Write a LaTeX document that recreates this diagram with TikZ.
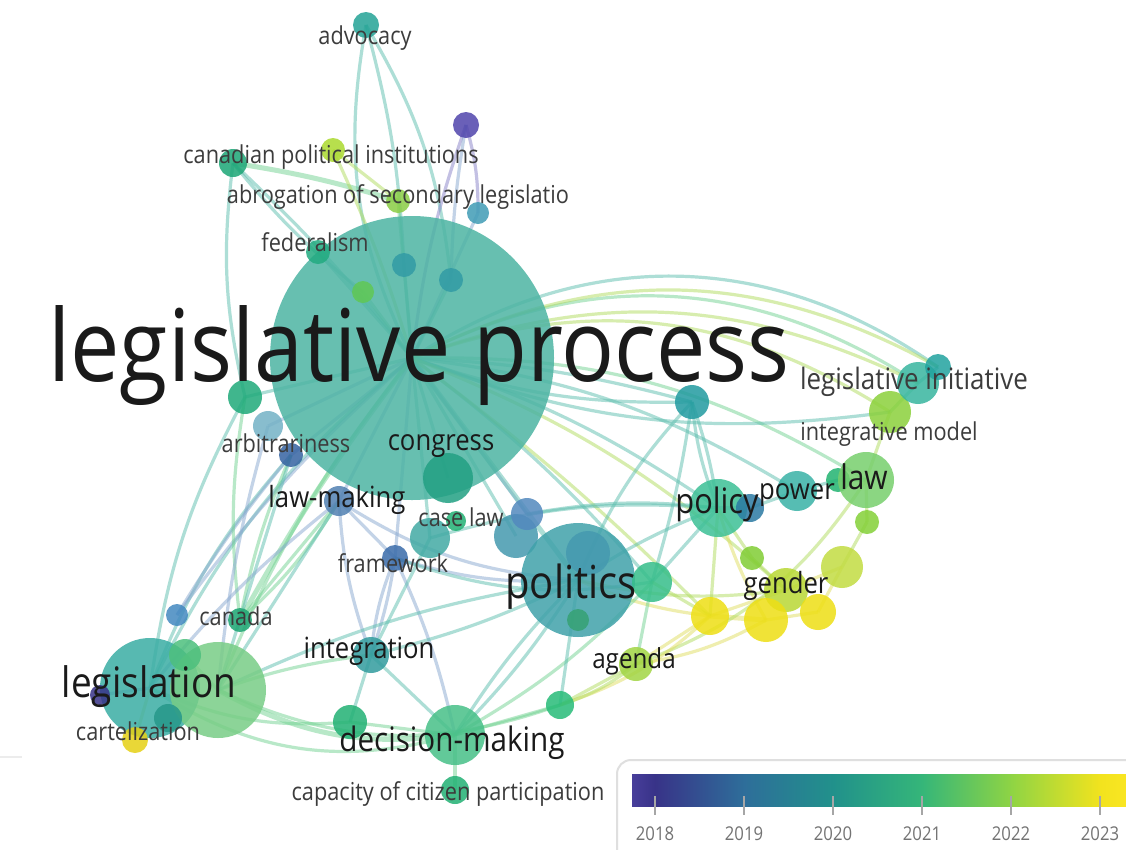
\documentclass[tikz,border=0pt]{standalone}
\usepackage{fontspec}
\setmainfont{Open Sans}
\pgfdeclarelayer{edges}
\pgfdeclarelayer{labels}
\pgfsetlayers{edges,main,labels}
% node colours
\definecolor{cLP}{HTML}{4DB4A3}
\definecolor{cAdv}{HTML}{24A396}
\definecolor{cPur}{HTML}{5045AC}
\definecolor{cCpi}{HTML}{1CA676}
\definecolor{cLim}{HTML}{ABDA2E}
\definecolor{cAbr}{HTML}{8ACD45}
\definecolor{cBt}{HTML}{409CB6}
\definecolor{cFed}{HTML}{22AB80}
\definecolor{cIn}{HTML}{329BA5}
\definecolor{cIg}{HTML}{60C854}
\definecolor{cLg}{HTML}{1FAA7A}
\definecolor{cPal}{HTML}{74B2C6}
\definecolor{cArb}{HTML}{3563A1}
\definecolor{cLm}{HTML}{5281B2}
\definecolor{cCong}{HTML}{22A083}
\definecolor{cCl}{HTML}{42AAA4}
\definecolor{cB1}{HTML}{5389BE}
\definecolor{cB2}{HTML}{4599AF}
\definecolor{cPol}{HTML}{40A2AA}
\definecolor{cPolg}{HTML}{36A274}
\definecolor{cFw}{HTML}{3A6CAA}
\definecolor{cNp}{HTML}{36BE8A}
\definecolor{cTr}{HTML}{229BA0}
\definecolor{cPlc}{HTML}{3DC096}
\definecolor{cDb}{HTML}{2B7AA3}
\definecolor{cPw}{HTML}{39B2A6}
\definecolor{cSg}{HTML}{21B370}
\definecolor{cLaw}{HTML}{77CF6D}
\definecolor{cLb}{HTML}{84D038}
\definecolor{cIm}{HTML}{8BD13B}
\definecolor{cLi}{HTML}{38B69F}
\definecolor{cLi2}{HTML}{22A39F}
\definecolor{cLg2}{HTML}{81CD34}
\definecolor{cGen}{HTML}{B9D834}
\definecolor{cGr}{HTML}{C2DC42}
\definecolor{cY}{HTML}{EEDF14}
\definecolor{cAg}{HTML}{A2D544}
\definecolor{cDg}{HTML}{27BC78}
\definecolor{cIng}{HTML}{329C9E}
\definecolor{cCb}{HTML}{4389C0}
\definecolor{cCg}{HTML}{1CA572}
\definecolor{cLeg}{HTML}{3AADA4}
\definecolor{cLegg}{HTML}{78CD86}
\definecolor{cLg3}{HTML}{4DC07D}
\definecolor{cLdt}{HTML}{26978A}
\definecolor{cLpu}{HTML}{383388}
\definecolor{cCart}{HTML}{E6D014}
\definecolor{cDm}{HTML}{47C088}
\definecolor{cDm2}{HTML}{22B174}
% edge colours
\definecolor{eT}{HTML}{5CBEAE}
\definecolor{eG}{HTML}{72D392}
\definecolor{eL}{HTML}{B0DC5E}
\definecolor{eY}{HTML}{E0DE60}
\definecolor{eB}{HTML}{88A8D0}
\definecolor{eP}{HTML}{8882C8}
\definecolor{txt}{HTML}{1A1A1A}
\definecolor{txs}{HTML}{3C3C3C}
\newcommand\kwn[5]{\node[kw,minimum size=#4pt,fill=#5] (#1) at (#2,#3) {};}
\newcommand\lk[4]{\draw[lnk,draw=#3] (#1.center) to[#4] (#2.center);}
\newcommand\lkw[4]{\draw[lnk,line width=5pt,draw=#3] (#1.center) to[#4] (#2.center);}
\newcommand\fs[1]{\fontsize{#1}{#1}\selectfont}
\begin{document}
\begin{tikzpicture}[x=1pt,y=-1pt,
  kw/.style={circle,inner sep=0pt,draw=none,fill opacity=0.85},
  lnk/.style={line width=3.2pt,draw opacity=0.5},
  lab/.style={inner sep=0pt,anchor=base,text=txs,xscale=0.88},
  big/.style={lab,text=txt}]
\useasboundingbox (0,0) rectangle (1126,849);
% ---------- nodes ----------
\kwn{lp}{412}{358}{284}{cLP}
\kwn{adv}{366}{25}{26}{cAdv}
\kwn{pur}{466}{125}{26}{cPur}
\kwn{cpi}{233}{163}{28}{cCpi}
\kwn{lim}{333}{150}{24}{cLim}
\kwn{abr}{398}{201}{24}{cAbr}
\kwn{bt}{478}{213}{22}{cBt}
\kwn{fed}{318}{252}{24}{cFed}
\kwn{ia}{404}{265}{24}{cIn}
\kwn{ib}{451}{280}{24}{cIn}
\kwn{ic}{363}{292}{22}{cIg}
\kwn{lg}{245}{397}{34}{cLg}
\kwn{pal}{268}{426}{30}{cPal}
\kwn{arb}{291}{455}{24}{cArb}
\kwn{lm}{339}{501}{30}{cLm}
\kwn{cong}{448}{478}{50}{cCong}
\kwn{cl}{430}{538}{40}{cCl}
\kwn{clg}{456}{521}{20}{cDm2}
\kwn{bb}{516}{536}{44}{cB2}
\kwn{ba}{527}{514}{32}{cB1}
\kwn{pol}{578}{580}{114}{cPol}
\kwn{polb}{588}{553}{44}{cB2}
\kwn{polg}{578}{620}{22}{cPolg}
\kwn{fw}{395}{558}{26}{cFw}
\kwn{np}{652}{582}{40}{cNp}
\kwn{tr}{692}{402}{34}{cTr}
\kwn{plc}{718}{508}{58}{cPlc}
\kwn{db}{750}{508}{28}{cDb}
\kwn{pw}{797}{491}{40}{cPw}
\kwn{sg}{838}{480}{24}{cSg}
\kwn{law}{866}{480}{56}{cLaw}
\kwn{lb}{867}{522}{24}{cLb}
\kwn{im}{890}{412}{42}{cIm}
\kwn{li}{918}{383}{42}{cLi}
\kwn{lii}{938}{367}{26}{cLi2}
\kwn{lgg}{752}{558}{24}{cLg2}
\kwn{gen}{786}{590}{44}{cGen}
\kwn{gr}{842}{567}{42}{cGr}
\kwn{ya}{710}{616}{38}{cY}
\kwn{yb}{766}{620}{44}{cY}
\kwn{yc}{818}{612}{36}{cY}
\kwn{ag}{636}{664}{34}{cAg}
\kwn{dg}{560}{705}{28}{cDg}
\kwn{ing}{371}{655}{36}{cIng}
\kwn{cb}{177}{615}{22}{cCb}
\kwn{cg}{240}{620}{24}{cCg}
\kwn{leg}{150}{688}{100}{cLeg}
\kwn{legg}{218}{690}{96}{cLegg}
\kwn{lgt}{185}{655}{32}{cLg3}
\kwn{ldt}{168}{718}{28}{cLdt}
\kwn{lpu}{100}{695}{20}{cLpu}
\kwn{cart}{135}{740}{26}{cCart}
\kwn{dm}{455}{735}{60}{cDm}
\kwn{dmb}{350}{722}{34}{cDm2}
\kwn{cap}{455}{790}{28}{cDm2}
% ---------- edges ----------
\begin{pgfonlayer}{edges}
\fill[white] (0,0) rectangle (1126,849);
\draw[gray!15,line width=2pt] (0,757) -- (22,757);
\lk{lp}{adv}{eT}{bend left=18}
\lk{adv}{ib}{eT}{bend left=12}
\lk{adv}{ia}{eT}{bend left=6}
\lk{pur}{bt}{eP}{bend left=8}
\lk{pur}{lp}{eP}{bend right=6}
\lk{pur}{ib}{eB}{bend right=4}
\lkw{cpi}{abr}{eG}{bend left=4}
\lk{cpi}{lp}{eT}{bend left=4}
\lk{cpi}{ic}{eT}{bend right=6}
\lk{cpi}{lg}{eT}{bend right=10}
\lk{lim}{lp}{eL}{bend left=4}
\lk{lim}{abr}{eL}{}
\lk{abr}{lp}{eG}{}
\lk{bt}{lp}{eB}{}
\lk{ia}{lp}{eT}{}
\lk{ib}{lp}{eT}{}
\lk{ic}{lp}{eG}{}
\lk{fed}{lp}{eT}{}
\lk{lg}{lp}{eT}{}
\lk{pal}{lp}{eB}{}
\lk{arb}{lp}{eB}{}
\lk{lm}{lp}{eB}{}
\lk{cong}{lp}{eT}{}
\lk{cl}{lp}{eT}{}
\lk{ba}{lp}{eB}{}
\lk{bb}{lp}{eT}{}
\lk{fw}{lp}{eB}{}
\lkw{pol}{lp}{eT}{}
\lk{lp}{li}{eG}{bend left=30}
\lk{lp}{lii}{eT}{bend left=34}
\lk{lp}{im}{eL}{bend left=26}
\lk{lp}{li}{eL}{bend left=23}
\lk{lp}{lii}{eL}{bend left=28}
\lk{lp}{tr}{eT}{bend left=6}
\lk{lp}{tr}{eT}{bend right=10}
\lk{lp}{plc}{eT}{bend left=8}
\lk{lp}{pw}{eT}{bend left=12}
\lk{lp}{law}{eG}{bend left=16}
\lk{im}{lp}{eT}{bend left=14}
\lk{lp}{gen}{eL}{bend left=10}
\lk{lp}{np}{eT}{bend left=6}
\lk{lp}{ya}{eL}{bend left=4}
\lk{tr}{plc}{eT}{bend left=5}
\lk{tr}{plc}{eT}{bend right=8}
\lk{tr}{pol}{eT}{bend right=10}
\lk{tr}{np}{eT}{bend left=4}
\lk{plc}{pol}{eT}{bend right=6}
\lk{plc}{np}{eT}{}
\lk{plc}{db}{eB}{}
\lk{db}{pw}{eT}{}
\lk{pw}{sg}{eT}{}
\lk{sg}{law}{eG}{}
\lk{law}{im}{eL}{}
\lk{im}{li}{eG}{}
\lk{li}{lii}{eT}{}
\lk{law}{lb}{eL}{}
\lk{lb}{gr}{eL}{}
\lk{gr}{gen}{eY}{}
\lk{gr}{yc}{eY}{}
\lk{yc}{yb}{eY}{}
\lkw{yb}{ya}{eY}{}
\lk{gen}{ya}{eY}{}
\lk{plc}{lgg}{eL}{}
\lk{lgg}{gen}{eL}{}
\lk{plc}{ya}{eL}{}
\lk{plc}{yb}{eY}{bend right=6}
\lk{np}{ya}{eL}{}
\lk{pol}{ya}{eY}{bend right=8}
\lk{pol}{gen}{eL}{bend right=10}
\lk{ag}{ya}{eY}{}
\lk{ag}{yb}{eY}{bend right=10}
\lk{ag}{law}{eL}{bend right=18}
\lk{dg}{ag}{eL}{}
\lk{dg}{ya}{eY}{bend right=12}
\lk{np}{ag}{eG}{}
\lk{cl}{plc}{eT}{bend left=10}
\lk{ba}{plc}{eT}{bend left=8}
\lk{lm}{fw}{eB}{}
\lk{lm}{ing}{eB}{bend right=8}
\lk{fw}{ing}{eB}{bend left=5}
\lk{fw}{ing}{eB}{bend right=8}
\lk{fw}{dm}{eB}{bend left=6}
\lk{fw}{pol}{eB}{bend right=10}
\lk{fw}{np}{eT}{bend right=14}
\lk{lm}{pol}{eB}{bend right=14}
\lk{ing}{dm}{eT}{}
\lk{ing}{dmb}{eT}{}
\lk{ing}{pol}{eT}{bend right=6}
\lk{cl}{ing}{eT}{}
\lk{leg}{dmb}{eG}{bend right=14}
\lkw{legg}{dm}{eG}{bend right=18}
\lk{leg}{dm}{eG}{bend right=24}
\lk{legg}{dg}{eG}{bend right=22}
\lk{legg}{ing}{eG}{bend left=6}
\lk{legg}{pol}{eT}{bend left=8}
\lk{dm}{dg}{eG}{}
\lk{dm}{pol}{eT}{bend right=6}
\lk{dm}{pol}{eT}{bend left=6}
\lk{dm}{cap}{eG}{}
\lk{dmb}{dm}{eG}{}
\lk{dm}{np}{eG}{bend right=8}
\lk{dg}{pol}{eT}{}
\lk{dg}{ag}{eL}{bend right=10}
\lk{leg}{lp}{eT}{bend left=12}
\lk{legg}{lp}{eG}{bend left=8}
\lk{leg}{arb}{eT}{bend left=10}
\lk{cb}{arb}{eB}{bend left=4}
\lk{cb}{lp}{eB}{bend left=6}
\lkw{cg}{lp}{eG}{bend left=4}
\lk{cg}{arb}{eG}{bend left=6}
\lk{cg}{lm}{eG}{}
\lk{cg}{lm}{eG}{bend right=8}
\lk{lg}{leg}{eT}{bend right=10}
\lk{lg}{cg}{eG}{bend right=8}
\lk{pal}{legg}{eB}{bend right=5}
\lk{arb}{legg}{eT}{}
\lk{lm}{leg}{eB}{bend right=6}
\lk{lm}{legg}{eT}{}
\lk{leg}{cart}{eY}{}
\lk{leg}{lpu}{eP}{}
\lk{legg}{lgt}{eG}{}
\end{pgfonlayer}
% ---------- legend ----------
\begin{scope}
\clip (0,0) rectangle (1126,849);
\draw[gray!25,line width=2pt,fill=white,rounded corners=14pt] (617,760) rectangle (1160,880);
\shade[left color=cPur!90!black,right color=cLpu] (632,774) rectangle (655,806);
\shade[left color=cLpu,right color={rgb,255:red,46;green,110;blue,154}] (655,774) rectangle (744.5,806);
\shade[left color={rgb,255:red,46;green,110;blue,154},right color={rgb,255:red,33;green,145;blue,139}] (744,774) rectangle (833.5,806);
\shade[left color={rgb,255:red,33;green,145;blue,139},right color={rgb,255:red,53;green,182;blue,121}] (833,774) rectangle (922.5,806);
\shade[left color={rgb,255:red,53;green,182;blue,121},right color={rgb,255:red,143;green,212;blue,68}] (922,774) rectangle (1011.5,806);
\shade[left color={rgb,255:red,143;green,212;blue,68},right color={rgb,255:red,242;green,227;blue,30}] (1011,774) rectangle (1100.5,806);
\shade[left color={rgb,255:red,242;green,227;blue,30},right color={rgb,255:red,253;green,231;blue,37}] (1100,774) rectangle (1140,806);
\foreach \x/\yr in {655/2018,744/2019,833/2020,922/2021,1011/2022,1100/2023}{
  \draw[gray!70,line width=1.5pt] (\x,796) -- (\x,815);
  \node[lab,text=gray!90!black,font=\fs{19}] (yr\yr) at (\x,840) {\yr};
}
\end{scope}
% ---------- labels ----------
\begin{pgfonlayer}{labels}
\node[big,font=\fs{100}] (t-lp) at (419,381) {legislative process};
\node[lab,font=\fs{24.7}] (t-adv) at (365,44) {advocacy};
\node[lab,font=\fs{24.7}] (t-cpi) at (331,163) {canadian political institutions};
\node[lab,font=\fs{24.7}] (t-abr) at (398,203) {abrogation of secondary legislatio};
\node[lab,font=\fs{24.7}] (t-fed) at (315,251) {federalism};
\node[lab,font=\fs{29.5}] (t-li) at (914,389) {legislative initiative};
\node[lab,font=\fs{24.7}] (t-im) at (889,440) {integrative model};
\node[lab,font=\fs{24.7}] (t-arb) at (286,452) {arbitrariness};
\node[big,font=\fs{29.2}] (t-cong) at (441,450) {congress};
\node[big,font=\fs{29.2}] (t-lm) at (337,507) {law-making};
\node[lab,font=\fs{24.7}] (t-cl) at (461,526) {case law};
\node[big,font=\fs{35}] (t-plc) at (717,513) {policy};
\node[big,font=\fs{29.2}] (t-pw) at (797,499) {power};
\node[big,font=\fs{34}] (t-law) at (864,489) {law};
\node[lab,font=\fs{24.7}] (t-fw) at (393,572) {framework};
\node[big,font=\fs{45.5}] (t-pol) at (571,598) {politics};
\node[big,font=\fs{29.2}] (t-gen) at (786,593) {gender};
\node[lab,font=\fs{24.7}] (t-cb) at (236,625) {canada};
\node[big,font=\fs{29.2}] (t-ing) at (369,658) {integration};
\node[big,font=\fs{27.5}] (t-ag) at (634,668) {agenda};
\node[big,font=\fs{42}] (t-leg) at (149,697) {legislation};
\node[lab,font=\fs{24.7}] (t-cart) at (138,740) {cartelization};
\node[big,font=\fs{33.7}] (t-dm) at (452,751) {decision-making};
\node[lab,font=\fs{24.7}] (t-cap) at (448,800) {capacity of citizen participation};
\end{pgfonlayer}
\end{tikzpicture}
\end{document}
